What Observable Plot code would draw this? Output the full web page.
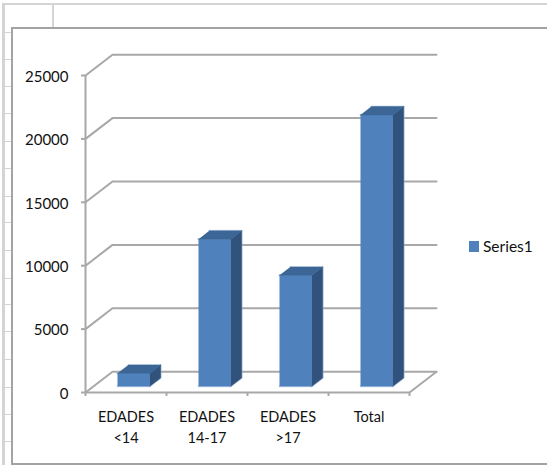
<!DOCTYPE html>
<html>
<head>
<meta charset="utf-8">
<script src="https://cdn.jsdelivr.net/npm/d3@7"></script>
<script src="https://cdn.jsdelivr.net/npm/@observablehq/plot@0.6"></script>
<style>
  html, body { margin: 0; padding: 0; background: #fff; overflow: hidden; }
  #stage { position: relative; width: 547px; height: 465px; overflow: hidden; font-family: Lato, sans-serif; }
  #stage svg { position: absolute; left: 0; top: 0; }
  .sheet { position: absolute; background: #d4d4d4; }
  #frame { position: absolute; left: 11px; top: 27px; width: 560px; height: 434px; background: #fff; border: 2px solid #a3a3a3; box-sizing: content-box; }
  #legend { position: absolute; left: 469px; top: 238px; display: flex; align-items: center; gap: 4px; font-size: 15.5px; color: #111; line-height: 16px; }
  #legend i { display: block; width: 10px; height: 11px; background: #4f81bd; }
</style>
</head>
<body>
<div id="stage"></div>
<script>
const categories = ["EDADES\n<14", "EDADES\n14-17", "EDADES\n>17", "Total"];
const values = [1020, 11600, 8750, 21400];
const seriesName = "Series1";
const yTicks = [0, 5000, 10000, 15000, 20000, 25000];
const xTicks = [0, 1, 2, 3, 4];

const colorFront = "#4f81bd";
const colorSide = "#30527c";
const colorTop = "#3b6696";
const colorGrid = "#a8a8a8";
const colorGlow = "#b9cde5";
const colorText = "#111";

// Oblique projection: a full step of depth moves right and up by these amounts, in scale units.
const depthX = 1 / 3;
const depthY = 1640;
const barFrom = 0.295, barTo = 0.695;   // share of a slot
const depthFront = 0.3, depthBack = 0.7;

const pt = (x, v, d) => ({ x: x + d * depthX, y: v + d * depthY });

const wall = yTicks.flatMap((v) => [
  { ...pt(0, v, 0), k: v }, { ...pt(0, v, 1), k: v }, { ...pt(4, v, 1), k: v }
]);
const floorSide = [pt(4, 0, 0), pt(4, 0, 1)];

const faces = values.flatMap((v, i) => {
  const a = i + barFrom, b = i + barTo;
  return [
    { c: colorFront, k: `f${i}`, p: [pt(a, 0, depthFront), pt(b, 0, depthFront), pt(b, v, depthFront), pt(a, v, depthFront)] },
    { c: colorSide, k: `s${i}`, p: [pt(b, 0, depthFront), pt(b, 0, depthBack), pt(b, v, depthBack), pt(b, v, depthFront)] },
    { c: colorTop, k: `t${i}`, p: [pt(a, v, depthFront), pt(b, v, depthFront), pt(b, v, depthBack), pt(a, v, depthBack)] }
  ];
}).flatMap((f) => f.p.map((q) => ({ ...q, k: f.k, c: f.c })));

const chart = Plot.plot({
  width: 547,
  height: 465,
  marginLeft: 85,
  marginRight: 138,
  marginTop: 75,
  marginBottom: 73,
  x: { domain: [0, 4] },
  y: { domain: [0, 25000] },
  color: { type: "identity" },
  style: { background: "transparent", fontFamily: "Lato, sans-serif", overflow: "visible" },
  marks: [
    Plot.line(wall, { x: "x", y: "y", z: "k", stroke: colorGrid, strokeWidth: 2, curve: "linear" }),
    Plot.line(floorSide, { x: "x", y: "y", stroke: colorGrid, strokeWidth: 2 }),
    Plot.ruleY([0], { x1: 0, x2: 4, stroke: colorGrid, strokeWidth: 2 }),
    Plot.ruleX([0], { y1: 0, y2: 25000, stroke: colorGrid, strokeWidth: 2 }),
    Plot.line(faces, { x: "x", y: "y", z: "k", stroke: colorGlow, strokeWidth: 2, strokeOpacity: 0.6 }),
    Plot.line(faces, { x: "x", y: "y", z: "k", fill: "c", stroke: "c", strokeWidth: 0.5 }),
    Plot.axisX({ ticks: xTicks, tickSize: 4, tickFormat: () => "", stroke: colorGrid, strokeWidth: 2, strokeOpacity: 1, label: null }),
    Plot.axisY({ ticks: yTicks, tickSize: 4, tickFormat: () => "", stroke: colorGrid, strokeWidth: 2, strokeOpacity: 1, label: null }),
    Plot.axisY({ ticks: yTicks, tickSize: 0, tickPadding: 17, dy: 1.5, tickFormat: (d) => String(d), fontSize: 15, fill: colorText, label: null }),
    Plot.text(categories, {
      x: (d, i) => i + 0.5,
      text: (d) => d,
      frameAnchor: "bottom",
      lineAnchor: "top",
      dy: 15,
      lineHeight: 1.45,
      fontSize: 14.5,
      fill: colorText
    })
  ]
});

const stage = document.getElementById("stage");
const sheet = [
  [2, 3, 545, 2], [2, 3, 3, 462], [52, 3, 2, 25], [52, 463, 2, 2],
  ...[32, 59, 86, 113, 141, 168, 196, 222, 250, 278, 304, 331, 359, 387, 414, 441].map((y) => [3, y, 9, 1])
];
for (const [l, t, w, h] of sheet) {
  const d = document.createElement("div");
  d.className = "sheet";
  d.style.cssText = `left:${l}px;top:${t}px;width:${w}px;height:${h}px`;
  stage.append(d);
}
const frame = document.createElement("div");
frame.id = "frame";
stage.append(frame);
stage.append(chart);
const legend = document.createElement("div");
legend.id = "legend";
legend.innerHTML = "<i></i><span></span>";
legend.querySelector("span").textContent = seriesName;
stage.append(legend);
</script>
</body>
</html>
